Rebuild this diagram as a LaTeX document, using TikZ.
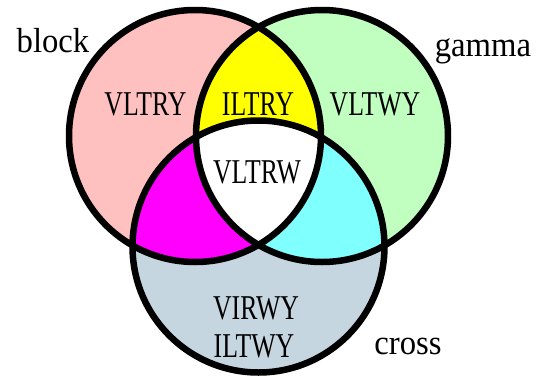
\documentclass[tikz,border=0pt]{standalone}
\usepackage{tikz}
\usepackage{fontspec}
\setmainfont{Liberation Serif}

\definecolor{blockrot}{RGB}{255,192,192}
\definecolor{gammagruen}{RGB}{192,255,192}
\definecolor{crossgrau}{RGB}{198,214,224}
\definecolor{gelb}{RGB}{255,255,0}
\definecolor{pink}{RGB}{255,0,255}
\definecolor{cyanhell}{RGB}{128,255,255}

\begin{document}
\begin{tikzpicture}[x=0.5pt,y=-0.5pt,
    kreis/.style={radius=63pt},
    rand/.style={line width=3.25pt},
    feld/.style={font=\fontsize{17.4}{20}\selectfont,xscale=0.74,transform shape,anchor=base},
    etikett/.style={font=\fontsize{17.4}{20}\selectfont,xscale=0.94,transform shape,anchor=base}]
    \useasboundingbox (0,0) rectangle (548,376);
    \coordinate (block) at (195,136);
    \coordinate (gamma) at (322,136);
    \coordinate (cross) at (258.5,246.5);
	%Flaechen
    \fill[blockrot] (block) circle[kreis];
    \fill[gammagruen] (gamma) circle[kreis];
    \fill[crossgrau] (cross) circle[kreis];
    \begin{scope}
      \clip (block) circle[kreis];
      \fill[gelb] (gamma) circle[kreis];
      \fill[pink] (cross) circle[kreis];
    \end{scope}
    \begin{scope}
      \clip (gamma) circle[kreis];
      \fill[cyanhell] (cross) circle[kreis];
      \clip (block) circle[kreis];
      \fill[white] (cross) circle[kreis];
    \end{scope}
	%Kreise
    \foreach \m in {block,gamma,cross}
      \draw[rand] (\m) circle[kreis];
	%Beschriftung
    \node[feld] (vltry) at (145.5,115) {VLTRY};
    \node[feld] (iltry) at (258,115) {ILTRY};
    \node[feld] (vltwy) at (375,115) {VLTWY};
    \node[feld] (vltrw) at (257,183) {VLTRW};
    \node[feld] (virwy) at (256,319) {VIRWY};
    \node[feld] (iltwy) at (254,357) {ILTWY};
    \node[etikett] (lblock) at (53,52) {block};
    \node[etikett] (lgamma) at (483,56) {gamma};
    \node[etikett] (lcross) at (408,354) {cross};
\end{tikzpicture}
\end{document}
